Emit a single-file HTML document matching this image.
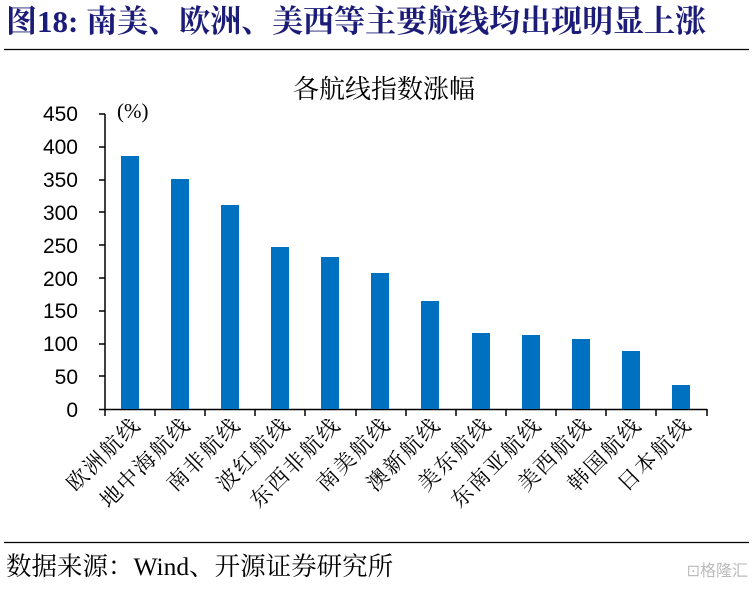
<!DOCTYPE html>
<html><head><meta charset="utf-8"><style>
body{margin:0;background:#fff;width:753px;height:586px;overflow:hidden}
</style></head><body>
<svg width="753" height="586" xmlns="http://www.w3.org/2000/svg">
<text x="6" y="32" font-family="Liberation Serif,'Noto Serif CJK SC',serif" font-weight="bold" font-size="31" fill="#1b1b78">图18:  南美、欧洲、美西等主要航线均出现明显上涨</text>
<line x1="4" y1="49.5" x2="749" y2="49.5" stroke="#000" stroke-width="1.3"/>
<text x="384" y="98" text-anchor="middle" font-family="'Noto Serif CJK SC',serif" font-size="26" fill="#000">各航线指数涨幅</text>
<text x="117" y="118" font-family="Liberation Serif,serif" font-size="21" fill="#000">(%)</text>
<g font-family="Liberation Sans,sans-serif" font-size="21" fill="#000" text-anchor="end">
<text x="78" y="121">450</text><text x="78" y="154">400</text><text x="78" y="187">350</text><text x="78" y="220">300</text><text x="78" y="253">250</text><text x="78" y="286">200</text><text x="78" y="318">150</text><text x="78" y="351">100</text><text x="78" y="384">50</text><text x="78" y="417">0</text>
</g>
<g stroke="#000" stroke-width="1.5">
<line x1="105" y1="114" x2="105" y2="409.5"/>
<line x1="99" y1="409.5" x2="707" y2="409.5"/>
<line x1="99" y1="114" x2="105" y2="114"/><line x1="99" y1="147" x2="105" y2="147"/><line x1="99" y1="180" x2="105" y2="180"/><line x1="99" y1="212" x2="105" y2="212"/><line x1="99" y1="245" x2="105" y2="245"/><line x1="99" y1="278" x2="105" y2="278"/><line x1="99" y1="311" x2="105" y2="311"/><line x1="99" y1="344" x2="105" y2="344"/><line x1="99" y1="376" x2="105" y2="376"/>
<line x1="105" y1="409" x2="105" y2="416"/><line x1="155" y1="409" x2="155" y2="416"/><line x1="205" y1="409" x2="205" y2="416"/><line x1="255" y1="409" x2="255" y2="416"/><line x1="305" y1="409" x2="305" y2="416"/><line x1="356" y1="409" x2="356" y2="416"/><line x1="406" y1="409" x2="406" y2="416"/><line x1="456" y1="409" x2="456" y2="416"/><line x1="506" y1="409" x2="506" y2="416"/><line x1="556" y1="409" x2="556" y2="416"/><line x1="606" y1="409" x2="606" y2="416"/><line x1="656" y1="409" x2="656" y2="416"/><line x1="707" y1="409" x2="707" y2="416"/>
</g>
<g fill="#0070c0">
<rect x="121" y="156" width="18" height="253"/>
<rect x="171" y="179" width="18" height="230"/>
<rect x="221" y="205" width="18" height="204"/>
<rect x="271" y="247" width="18" height="162"/>
<rect x="321" y="257" width="18" height="152"/>
<rect x="371" y="273" width="18" height="136"/>
<rect x="421" y="301" width="18" height="108"/>
<rect x="472" y="333" width="18" height="76"/>
<rect x="522" y="335" width="18" height="74"/>
<rect x="572" y="339" width="18" height="70"/>
<rect x="622" y="351" width="18" height="58"/>
<rect x="672" y="385" width="18" height="24"/>
</g>
<g font-family="'Noto Serif CJK SC',serif" font-size="21.5" letter-spacing="2" fill="#000" text-anchor="end">
<text transform="translate(142,426) rotate(-45)">欧洲航线</text>
<text transform="translate(192,426) rotate(-45)">地中海航线</text>
<text transform="translate(242,426) rotate(-45)">南非航线</text>
<text transform="translate(292,426) rotate(-45)">波红航线</text>
<text transform="translate(342,426) rotate(-45)">东西非航线</text>
<text transform="translate(392,426) rotate(-45)">南美航线</text>
<text transform="translate(442,426) rotate(-45)">澳新航线</text>
<text transform="translate(493,426) rotate(-45)">美东航线</text>
<text transform="translate(543,426) rotate(-45)">东南亚航线</text>
<text transform="translate(593,426) rotate(-45)">美西航线</text>
<text transform="translate(643,426) rotate(-45)">韩国航线</text>
<text transform="translate(693,426) rotate(-45)">日本航线</text>
</g>
<line x1="4" y1="542.5" x2="749" y2="542.5" stroke="#000" stroke-width="1.3"/>
<text x="6" y="575" font-family="Liberation Serif,'Noto Serif CJK SC',serif" font-size="25.5" fill="#000">数据来源：Wind、开源证券研究所</text>
<text x="748" y="576" text-anchor="end" font-family="'Noto Sans CJK SC',sans-serif" font-size="16" fill="#bbb">⊡格隆汇</text>
</svg>
</body></html>
